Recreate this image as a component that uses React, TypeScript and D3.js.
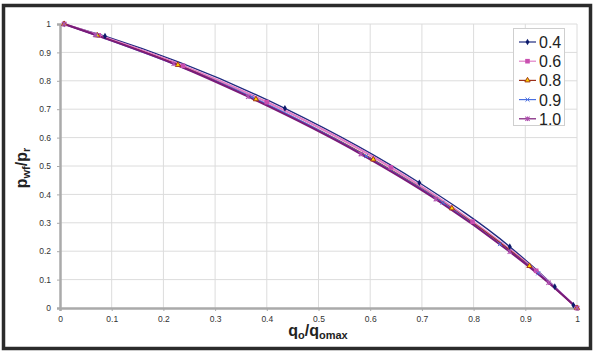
import React, { useEffect, useRef } from "react";
import * as d3 from "d3";

// [q/qmax, pwf/pr]
const series04 = [[0.008, 1.0], [0.087, 0.957], [0.435, 0.703], [0.695, 0.441], [0.87, 0.216], [0.957, 0.075], [0.993, 0.01]];
const series06 = [[0.008, 1.0], [0.075, 0.96], [0.238, 0.853], [0.4, 0.725], [0.64, 0.495], [0.798, 0.304], [0.921, 0.131], [1.0, 0.0]];
const series08 = [[0.008, 1.0], [0.072, 0.96], [0.228, 0.856], [0.379, 0.735], [0.606, 0.523], [0.758, 0.351], [0.908, 0.148], [1.0, 0.0]];
const series09 = [[0.008, 1.0], [0.07, 0.96], [0.371, 0.743], [0.592, 0.535], [0.74, 0.371], [0.851, 0.225], [0.925, 0.122], [1.0, 0.0]];
const series10 = [[0.008, 1.0], [0.068, 0.962], [0.22, 0.86], [0.364, 0.744], [0.582, 0.542], [0.727, 0.383], [0.87, 0.198], [0.945, 0.089], [1.0, 0.0]];

const seriesNames = ["0.4", "0.6", "0.8", "0.9", "1.0"];
const xTicks = [0, 0.1, 0.2, 0.3, 0.4, 0.5, 0.6, 0.7, 0.8, 0.9, 1];
const yTicks = [0, 0.1, 0.2, 0.3, 0.4, 0.5, 0.6, 0.7, 0.8, 0.9, 1];

const App = () => {
  const ref = useRef<SVGSVGElement>(null);
  const width = 600;
  const height = 355;
  const margin = { top: 24, right: 23, bottom: 47, left: 60 };

  useEffect(() => {
    const svg = d3.select(ref.current);
    svg.selectAll("*").remove();

    const x = d3.scaleLinear().domain([0, 1]).range([margin.left, width - margin.right]);
    const y = d3.scaleLinear().domain([0, 1]).range([height - margin.bottom, margin.top]);

    // outer frame
    svg.append("rect")
      .attr("x", 3.5).attr("y", 5.5)
      .attr("width", 587).attr("height", 343)
      .attr("fill", "#fff")
      .attr("stroke", "#2b2b2b")
      .attr("stroke-width", 3.5);

    // gridlines
    svg.append("g").selectAll("line").data(xTicks.slice(1)).join("line")
      .attr("x1", d => x(d)).attr("x2", d => x(d))
      .attr("y1", y(1)).attr("y2", y(0))
      .attr("stroke", "#dcdcdc").attr("stroke-width", 1);
    svg.append("g").selectAll("line").data(yTicks.slice(1)).join("line")
      .attr("x1", x(0)).attr("x2", x(1))
      .attr("y1", d => y(d)).attr("y2", d => y(d))
      .attr("stroke", "#dcdcdc").attr("stroke-width", 1);

    // axes
    const xAxis = svg.append("g")
      .attr("transform", `translate(0,${y(0)})`)
      .call(d3.axisBottom(x).tickValues(xTicks).tickSize(3).tickFormat(d3.format("")));
    const yAxis = svg.append("g")
      .attr("transform", `translate(${x(0)},0)`)
      .call(d3.axisLeft(y).tickValues(yTicks).tickSize(3).tickFormat(d3.format("")));
    [xAxis, yAxis].forEach(g => {
      g.select(".domain").attr("stroke", "#aaaaaa").attr("stroke-width", 2.5);
      g.selectAll(".tick line").attr("stroke", "#aaaaaa");
      g.selectAll("text")
        .attr("fill", "#333")
        .attr("font-size", "8.5px")
        .attr("font-family", "Liberation Sans, Arial, sans-serif");
    });
    xAxis.selectAll("text").attr("dy", "0.9em");
    yAxis.selectAll("text").attr("dx", "-3px");

    const line = d3.line<number[]>()
      .x(d => x(d[0]))
      .y(d => y(d[1]))
      .curve(d3.curveMonotoneX);

    const styles = [
      { data: series04, color: "#1f2a80", width: 1.3, marker: "diamond" },
      { data: series06, color: "#e07fc6", width: 2.2, marker: "square" },
      { data: series08, color: "#9a2f1c", width: 1.3, marker: "triangle" },
      { data: series09, color: "#4a6fe0", width: 1.3, marker: "cross" },
      { data: series10, color: "#7a1a78", width: 2, marker: "star" },
    ];

    const drawMarker = (g, type, color, cx, cy) => {
      if (type === "diamond") {
        g.append("path").attr("d", d3.symbol(d3.symbolDiamond, 13)())
          .attr("transform", `translate(${cx},${cy})`).attr("fill", "#0d1a6b");
      } else if (type === "square") {
        g.append("rect").attr("x", cx - 2.3).attr("y", cy - 2.3).attr("width", 4.6).attr("height", 4.6)
          .attr("fill", "#c94fb0");
      } else if (type === "triangle") {
        g.append("path").attr("d", d3.symbol(d3.symbolTriangle, 12)())
          .attr("transform", `translate(${cx},${cy})`)
          .attr("fill", "#ffd700").attr("stroke", "#a33a14").attr("stroke-width", 1);
      } else if (type === "cross") {
        g.append("path").attr("d", d3.symbol(d3.symbolX, 12)())
          .attr("transform", `translate(${cx},${cy})`)
          .attr("fill", "none").attr("stroke", "#4a6fe0").attr("stroke-width", 1);
      } else {
        g.append("path").attr("d", d3.symbol(d3.symbolX, 14)())
          .attr("transform", `translate(${cx},${cy})`)
          .attr("fill", "none").attr("stroke", "#b050b0").attr("stroke-width", 1.1);
        g.append("line").attr("x1", cx).attr("x2", cx).attr("y1", cy - 2.3).attr("y2", cy + 2.3)
          .attr("stroke", "#b050b0").attr("stroke-width", 1);
      }
    };

    styles.forEach(s => {
      svg.append("path")
        .datum(s.data)
        .attr("d", line)
        .attr("fill", "none")
        .attr("stroke", s.color)
        .attr("stroke-width", s.width);
    });
    styles.forEach(s => {
      const g = svg.append("g");
      s.data.forEach(d => drawMarker(g, s.marker, s.color, x(d[0]), y(d[1])));
    });

    // legend
    const legend = svg.append("g");
    legend.append("rect")
      .attr("x", 513.5).attr("y", 28.5)
      .attr("width", 51).attr("height", 97)
      .attr("fill", "#fff").attr("stroke", "#cfcfcf");
    styles.forEach((s, i) => {
      const ly = 42 + i * 19.2;
      legend.append("line")
        .attr("x1", 519).attr("x2", 536).attr("y1", ly).attr("y2", ly)
        .attr("stroke", s.color).attr("stroke-width", 1.2);
      drawMarker(legend, s.marker, s.color, 527.5, ly);
      legend.append("text")
        .attr("x", 539).attr("y", ly + 6)
        .attr("font-size", "16px")
        .attr("font-family", "Liberation Sans, Arial, sans-serif")
        .attr("fill", "#222")
        .text(seriesNames[i]);
    });

    // axis titles
    const xt = svg.append("text")
      .attr("x", 318).attr("y", 336)
      .attr("text-anchor", "middle")
      .attr("font-family", "Liberation Sans, Arial, sans-serif")
      .attr("font-weight", "bold")
      .attr("font-size", "16px")
      .attr("fill", "#222");
    xt.append("tspan").text("q");
    xt.append("tspan").attr("font-size", "11px").attr("dy", "3").text("o");
    xt.append("tspan").attr("dy", "-3").text("/q");
    xt.append("tspan").attr("font-size", "11px").attr("dy", "3").text("omax");

    const yt = svg.append("text")
      .attr("transform", `translate(27,168) rotate(-90)`)
      .attr("text-anchor", "middle")
      .attr("font-family", "Liberation Sans, Arial, sans-serif")
      .attr("font-weight", "bold")
      .attr("font-size", "16px")
      .attr("fill", "#222");
    yt.append("tspan").text("p");
    yt.append("tspan").attr("font-size", "11px").attr("dy", "3").text("wf");
    yt.append("tspan").attr("dy", "-3").text("/p");
    yt.append("tspan").attr("font-size", "11px").attr("dy", "3").text("r");
  });

  return (
    <svg ref={ref} width={width} height={height}
      style={{ position: "absolute", left: 0, top: 0, background: "#fff" }} />
  );
};

export default App;
